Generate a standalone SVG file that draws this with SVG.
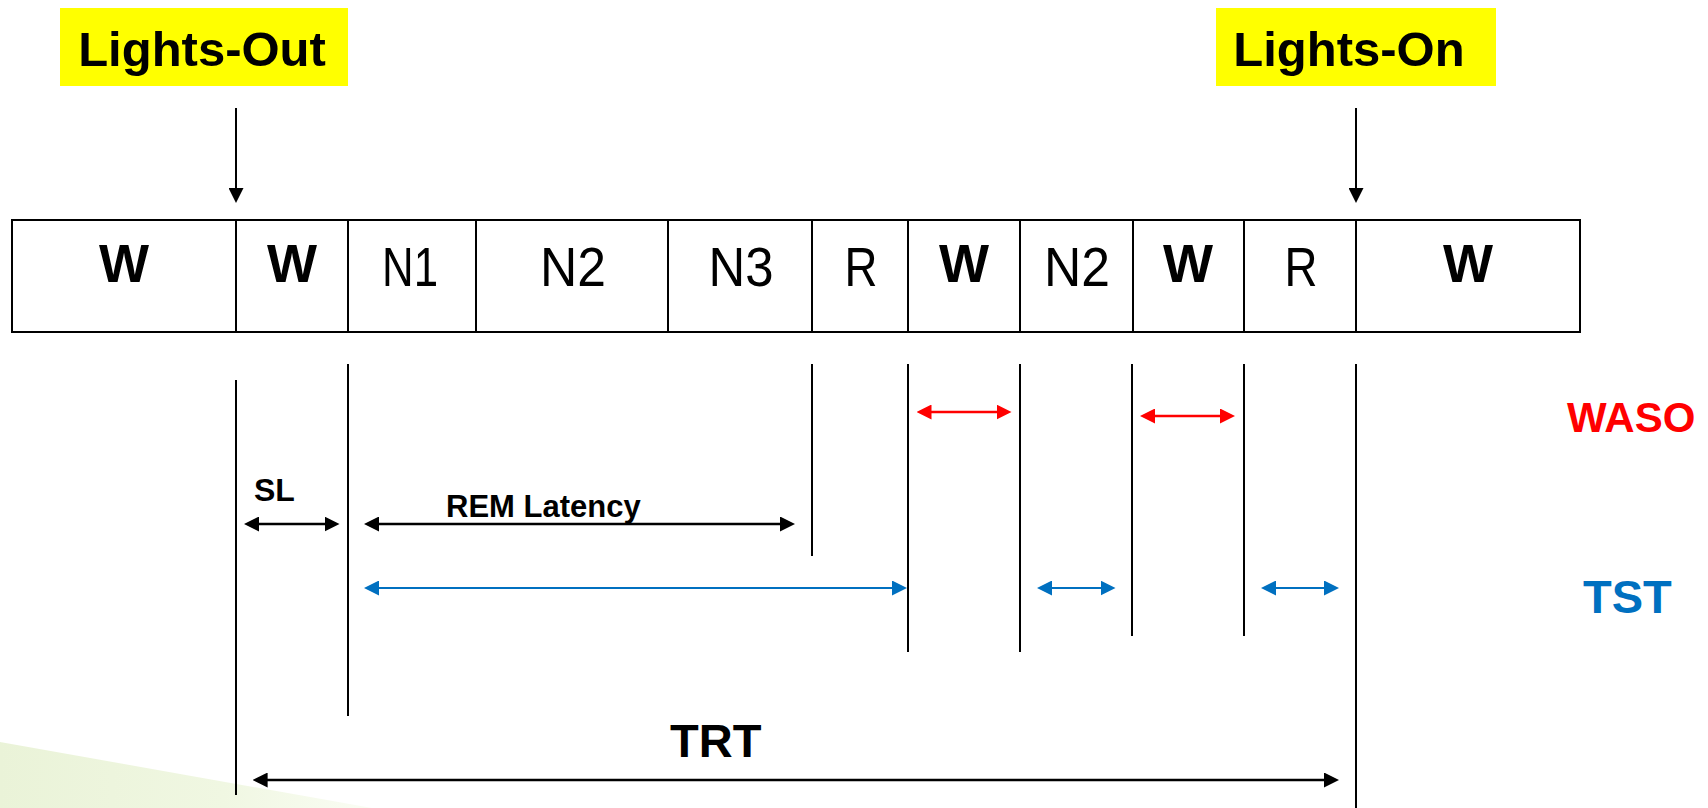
<svg xmlns="http://www.w3.org/2000/svg" width="1708" height="808" viewBox="0 0 1708 808">
<defs>
<style>
.bg{fill:#ffffff}
.label{font-family:"Liberation Sans",Arial,sans-serif;font-weight:bold;fill:#000}
.stage{font-family:"Liberation Sans",Arial,sans-serif;font-weight:normal;font-size:56px;fill:#000;text-anchor:middle}
.wake{font-family:"Liberation Sans",Arial,sans-serif;font-weight:bold;font-size:53px;fill:#000;text-anchor:middle}
.cell{fill:#fff;stroke:#000;stroke-width:2}
.div{stroke:#000;stroke-width:2;fill:none}
.vline{stroke:#000;stroke-width:2;fill:none}
.arr-k{stroke:#000;stroke-width:2.6;fill:none}
.arr-b{stroke:#0070C0;stroke-width:2.2;fill:none}
.arr-r{stroke:#FF0000;stroke-width:2.4;fill:none}
.tag{fill:#FFFF00}
</style>
<linearGradient id="grn" x1="0" y1="0" x2="1" y2="0">
<stop offset="0" stop-color="#EAF3D8"/>
<stop offset="0.6" stop-color="#F0F7E2"/>
<stop offset="1" stop-color="#FAFDF4"/>
</linearGradient>
<marker id="mk" viewBox="0 0 15 15" refX="10" refY="7.5" markerWidth="15" markerHeight="15" markerUnits="userSpaceOnUse" orient="auto-start-reverse">
<path d="M0,0 L15,7.5 L0,15 z" fill="#000"/>
</marker>
<marker id="mb" viewBox="0 0 15 15" refX="10" refY="7.5" markerWidth="15" markerHeight="15" markerUnits="userSpaceOnUse" orient="auto-start-reverse">
<path d="M0,0 L15,7.5 L0,15 z" fill="#0070C0"/>
</marker>
<marker id="mr" viewBox="0 0 15 15" refX="10" refY="7.5" markerWidth="15" markerHeight="15" markerUnits="userSpaceOnUse" orient="auto-start-reverse">
<path d="M0,0 L15,7.5 L0,15 z" fill="#FF0000"/>
</marker>
</defs>
<rect class="bg" x="0" y="0" width="1708" height="808"/>
<polygon points="0,742 372,808 0,808" fill="url(#grn)"/>

<g id="lights-out">
<rect class="tag" x="60" y="8" width="288" height="78"/>
<text class="label" x="202" y="66" font-size="49" text-anchor="middle">Lights-Out</text>
</g>
<g id="lights-on">
<rect class="tag" x="1216" y="8" width="280" height="78"/>
<text class="label" x="1349" y="66" font-size="49" text-anchor="middle">Lights-On</text>
</g>

<g id="hypnogram">
<rect class="cell" x="12" y="220" width="1568" height="112"/>
<line class="div" x1="236" y1="220" x2="236" y2="332"/>
<line class="div" x1="348" y1="220" x2="348" y2="332"/>
<line class="div" x1="476" y1="220" x2="476" y2="332"/>
<line class="div" x1="668" y1="220" x2="668" y2="332"/>
<line class="div" x1="812" y1="220" x2="812" y2="332"/>
<line class="div" x1="908" y1="220" x2="908" y2="332"/>
<line class="div" x1="1020" y1="220" x2="1020" y2="332"/>
<line class="div" x1="1133" y1="220" x2="1133" y2="332" stroke-width="3.2"/>
<line class="div" x1="1244" y1="220" x2="1244" y2="332"/>
<line class="div" x1="1356" y1="220" x2="1356" y2="332"/>
</g>
<g id="stage-w1"><text class="wake" x="124" y="282">W</text></g>
<g id="stage-w2"><text class="wake" x="292" y="282">W</text></g>
<g id="stage-n1"><text class="stage" x="410" y="286" textLength="56" lengthAdjust="spacingAndGlyphs">N1</text></g>
<g id="stage-n2a"><text class="stage" x="573" y="286" textLength="66" lengthAdjust="spacingAndGlyphs">N2</text></g>
<g id="stage-n3"><text class="stage" x="741" y="286" textLength="65" lengthAdjust="spacingAndGlyphs">N3</text></g>
<g id="stage-r1"><text class="stage" x="861" y="286" textLength="33" lengthAdjust="spacingAndGlyphs">R</text></g>
<g id="stage-w3"><text class="wake" x="964" y="282">W</text></g>
<g id="stage-n2b"><text class="stage" x="1077" y="286" textLength="66" lengthAdjust="spacingAndGlyphs">N2</text></g>
<g id="stage-w4"><text class="wake" x="1188" y="282">W</text></g>
<g id="stage-r2"><text class="stage" x="1301" y="286" textLength="33" lengthAdjust="spacingAndGlyphs">R</text></g>
<g id="stage-w5"><text class="wake" x="1468" y="282">W</text></g>

<g id="markers-lines">
<line class="vline" x1="236" y1="380" x2="236" y2="795"/>
<line class="vline" x1="348" y1="364" x2="348" y2="716"/>
<line class="vline" x1="812" y1="364" x2="812" y2="556"/>
<line class="vline" x1="908" y1="364" x2="908" y2="652"/>
<line class="vline" x1="1020" y1="364" x2="1020" y2="652"/>
<line class="vline" x1="1132" y1="364" x2="1132" y2="636"/>
<line class="vline" x1="1244" y1="364" x2="1244" y2="636"/>
<line class="vline" x1="1356" y1="364" x2="1356" y2="808"/>
</g>

<g id="connectors">
<line class="vline" x1="236" y1="108" x2="236" y2="198" marker-end="url(#mk)"/>
<line class="vline" x1="1356" y1="108" x2="1356" y2="198" marker-end="url(#mk)"/>
<line class="arr-k" x1="249" y1="524" x2="334.5" y2="524" marker-start="url(#mk)" marker-end="url(#mk)"/>
<line class="arr-k" x1="369" y1="524" x2="790" y2="524" marker-start="url(#mk)" marker-end="url(#mk)"/>
<line class="arr-b" x1="369" y1="588" x2="902" y2="588" marker-start="url(#mb)" marker-end="url(#mb)"/>
<line class="arr-b" x1="1042" y1="588" x2="1110.5" y2="588" marker-start="url(#mb)" marker-end="url(#mb)"/>
<line class="arr-b" x1="1266" y1="588" x2="1334" y2="588" marker-start="url(#mb)" marker-end="url(#mb)"/>
<line class="arr-r" x1="921.5" y1="412" x2="1006.5" y2="412" marker-start="url(#mr)" marker-end="url(#mr)"/>
<line class="arr-r" x1="1145" y1="416" x2="1230" y2="416" marker-start="url(#mr)" marker-end="url(#mr)"/>
<line class="arr-k" x1="257.6" y1="780" x2="1334" y2="780" marker-start="url(#mk)" marker-end="url(#mk)"/>
</g>

<g id="labels">
<text class="label" x="254" y="501" font-size="32">SL</text>
<text class="label" x="446" y="517" font-size="31">REM Latency</text>
<text class="label" x="670" y="757" font-size="47">TRT</text>
<text class="label" x="1567" y="431.5" font-size="42" style="fill:#FF0000">WASO</text>
<text class="label" x="1583" y="613" font-size="47" style="fill:#0070C0">TST</text>
</g>
</svg>
